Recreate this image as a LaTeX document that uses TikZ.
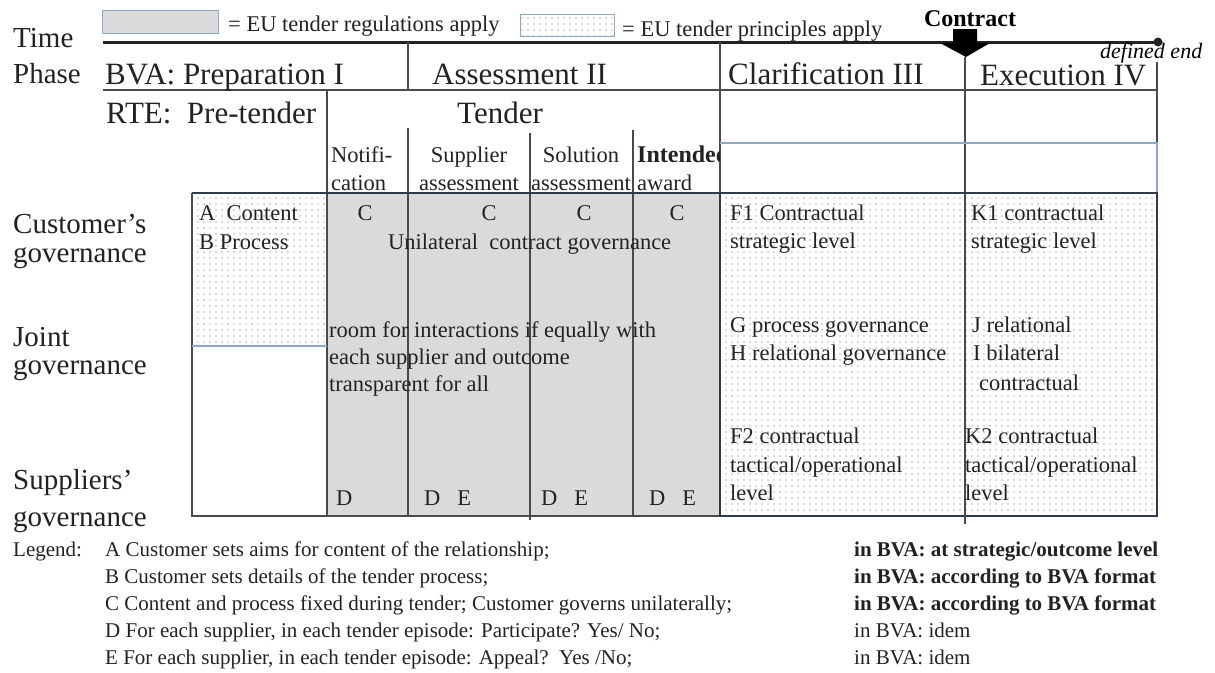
\documentclass[tikz,border=0pt]{standalone}
\usepackage{fontspec}
\setmainfont{Liberation Serif}
\usetikzlibrary{patterns.meta}
\definecolor{ink}{HTML}{222222}
\definecolor{rule}{HTML}{4A4A4A}
\definecolor{frame}{HTML}{2F3B4C}
\definecolor{paleblue}{HTML}{8EA9C8}
\definecolor{regfill}{HTML}{DADADA}
\tikzset{
  lab/.style={font=\fontsize{29}{31}\selectfont, anchor=base west, inner sep=0pt, text=ink},
  ph/.style={font=\fontsize{31}{33}\selectfont, anchor=base west, inner sep=0pt, text=ink},
  cell/.style={font=\fontsize{22.5}{26}\selectfont, anchor=base west, inner sep=0pt, text=ink},
  cellc/.style={cell, anchor=base},
  leg/.style={font=\fontsize{21}{24}\selectfont, anchor=base west, inner sep=0pt, text=ink},
  legb/.style={leg, font=\fontsize{21}{24}\selectfont\bfseries},
  grid/.style={draw=rule, line width=1.2pt},
  dotarea/.style={pattern={Dots[distance=6pt,radius=0.8pt]}, pattern color=gray!60},
  keybox/.style={draw=paleblue, line width=1.2pt, anchor=north west, inner sep=0pt},
}
\begin{document}
\begin{tikzpicture}[x=1pt,y=-1pt]
\useasboundingbox (0,0) rectangle (1215,672);

% ---- shaded regions of the table
\fill[regfill] (327,193) rectangle (720,516);
\fill[dotarea] (192,193) rectangle (327,346);
\fill[dotarea] (720,193) rectangle (1157,516);

% ---- key at the top
\node[keybox, fill=regfill, minimum width=116pt, minimum height=23pt] (key1) at (102,10) {};
\node[cell] (key1t) at (228,31) {= EU tender regulations apply};
\node[keybox, dotarea, minimum width=94pt, minimum height=22pt] (key2) at (520,14) {};
\node[cell] (key2t) at (622,36) {= EU tender principles apply};

% ---- time line with contract moment and defined end
\coordinate (tstart) at (103,42);
\coordinate (tend) at (1158,42);
\draw[line width=3pt, ink] (tstart) -- (tend);
\fill[ink] (tend) circle (4.5pt);
\node[font=\fontsize{24}{26}\selectfont\bfseries, anchor=base, inner sep=0pt] (contract) at (970,26) {Contract};
\fill[black] (953,29) -- (977,29) -- (977,43) -- (990,43) -- (966,57) -- (940,43) -- (953,43) -- cycle;
\node[font=\fontsize{22}{26}\selectfont\itshape, anchor=base west, inner sep=0pt] (defend) at (1100,58) {defined end};

% ---- grid lines
\draw[grid] (103,90) -- (1157,90);
\draw[grid] (408,42) -- (408,90);
\draw[grid] (327,90) -- (327,516);
\draw[grid] (408,128) -- (408,516);
\draw[grid] (530,133) -- (530,520);
\draw[grid] (633,130) -- (633,516);
\draw[grid] (720,42) -- (720,516);
\draw[grid] (965,57) -- (965,524);
\draw[grid] (1157,62) -- (1157,143);
\draw[draw=paleblue, line width=1.2pt] (720,143) -- (1157,143) -- (1157,193);
\draw[grid] (192,193) -- (192,516) -- (720,516);
\draw[draw=frame, line width=1.5pt] (192,193) -- (720,193);
\draw[draw=paleblue, line width=1.2pt] (192,346) -- (327,346);
\draw[draw=frame, line width=1.8pt] (720,193) rectangle (1157,516);
\draw[grid] (965,193) -- (965,524);

% ---- row labels
\node[lab] (time) at (13,47) {Time};
\node[lab] (phase) at (13,83) {Phase};
\node[lab] (cust1) at (13,233) {Customer’s};
\node[lab] (cust2) at (13,262) {governance};
\node[lab] (joint1) at (13,346) {Joint};
\node[lab] (joint2) at (13,374) {governance};
\node[lab] (supp1) at (13,489) {Suppliers’};
\node[lab] (supp2) at (13,526) {governance};

% ---- phases
\node[ph] (prep) at (105,84) {BVA: Preparation I};
\node[ph] (assess) at (432,84) {Assessment II};
\node[ph] (clar) at (728,84) {Clarification III};
\node[ph] (exec) at (980,85) {Execution IV};
\node[ph] (rte) at (106,123) {RTE:\ \ Pre-tender};
\node[ph] (tender) at (457,123) {Tender};

% ---- tender episodes
\node[cell] (notif1) at (331,162) {Notifi-};
\node[cell] (notif2) at (331,190) {cation};
\node[cellc] (supa1) at (469,162) {Supplier};
\node[cellc] (supa2) at (469,190) {assessment};
\node[cellc] (sola1) at (581,162) {Solution};
\node[cellc] (sola2) at (581,190) {assessment};
\begin{scope}
  \clip (633,140) rectangle (719,200);
  \node[cell, font=\fontsize{24}{26}\selectfont\bfseries] (award1) at (637,162) {Intended};
\end{scope}
\node[cell] (award2) at (637,190) {award};

% ---- cell contents, pre-tender
\node[cell] (acont) at (199,220) {A\ \ Content};
\node[cell] (bproc) at (199,249) {B Process};

% ---- cell contents, tender
\node[cellc] (c1) at (365,220) {C};
\node[cellc] (c2) at (489,220) {C};
\node[cellc] (c3) at (584,220) {C};
\node[cellc] (c4) at (677,220) {C};
\node[cell] (unil) at (388,249) {Unilateral\ \ contract governance};
\node[cell] (room1) at (329,337) {room for interactions if equally with};
\node[cell] (room2) at (329,364) {each supplier and outcome};
\node[cell] (room3) at (329,391) {transparent for all};
\node[cell] (d1) at (336,505) {D};
\node[cell] (de2) at (424,505) {D\ \ \ E};
\node[cell] (de3) at (541,505) {D\ \ \ E};
\node[cell] (de4) at (649,505) {D\ \ \ E};

% ---- cell contents, clarification and execution
\node[cell] (f1a) at (730,220) {F1 Contractual};
\node[cell] (f1b) at (730,248) {strategic level};
\node[cell] (k1a) at (971,220) {K1 contractual};
\node[cell] (k1b) at (971,248) {strategic level};
\node[cell] (ga) at (730,332) {G process governance};
\node[cell] (ha) at (730,360) {H relational governance};
\node[cell] (ja) at (972,332) {J relational};
\node[cell] (ia) at (973,360) {I bilateral};
\node[cell] (ib) at (979,390) {contractual};
\node[cell] (f2a) at (730,443) {F2 contractual};
\node[cell] (f2b) at (730,472) {tactical/operational};
\node[cell] (f2c) at (730,500) {level};
\node[cell] (k2a) at (965,443) {K2 contractual};
\node[cell] (k2b) at (965,472) {tactical/operational};
\node[cell] (k2c) at (965,500) {level};

% ---- legend
\node[leg] (legend) at (13,556) {Legend:};
\node[leg] (la) at (105,556) {A Customer sets aims\ for content of the relationship;};
\node[leg] (lb) at (105,583) {B Customer sets details of the tender process;};
\node[leg] (lc) at (105,610) {C Content and process fixed during tender; Customer governs unilaterally;};
\node[leg] (ld) at (105,637) {D For each supplier, in each tender episode: Participate? Yes/ No;};
\node[leg] (le) at (105,664) {E For each supplier, in each tender episode: Appeal?\ \ Yes /No;};
\node[legb] (ra) at (854,556) {in BVA: at strategic/outcome level};
\node[legb] (rb) at (854,583) {in BVA: according to BVA format};
\node[legb] (rc) at (854,610) {in BVA: according to BVA format};
\node[leg] (rd) at (854,637) {in BVA: idem};
\node[leg] (re) at (854,664) {in BVA: idem};
\end{tikzpicture}
\end{document}
